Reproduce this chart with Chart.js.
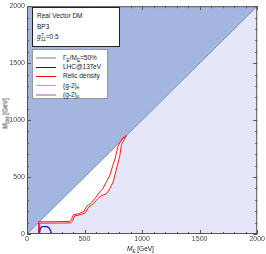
<!DOCTYPE html>
<html>
<head>
<meta charset="utf-8">
<script src="https://cdn.jsdelivr.net/npm/chart.js@4/dist/chart.umd.min.js"></script>
<style>
  html, body { margin:0; padding:0; background:#fff; }
  #wrap { position:relative; width:266px; height:254px; font-family:"Liberation Sans", Arial, sans-serif; color:#222; }
  #c { position:absolute; left:0; top:0; }
  .box { position:absolute; background:#fff; box-sizing:border-box; }
  #info { left:32px; top:7px; width:88px; height:40px; border:1px solid #222; font-size:6.5px; padding:3px 0 0 4px; line-height:10.5px; }
  #leg { left:32px; top:49px; width:76px; height:50px; border:1px solid #999; font-size:6.5px; padding:3px 0 0 3px; line-height:9.2px; }
  #leg .row { height:9.2px; white-space:nowrap; }
  #leg .ln { display:inline-block; width:20px; margin-right:7px; vertical-align:middle; }
  .lo { display:inline-block; font-size:4.6px; vertical-align:-1.5px; line-height:1; }
  .hi { display:inline-block; font-size:4.6px; vertical-align:2.5px; line-height:1; }
  .ttl { position:absolute; font-size:6.5px; white-space:nowrap; line-height:8px; }
</style>
</head>
<body>
<div id="wrap">
  <canvas id="c" width="266" height="254"></canvas>
  <div class="box" id="info">
    <div>Real Vector DM</div>
    <div>BP3</div>
    <div><i>g</i><span class="hi" style="margin-left:0.5px">T</span><span class="lo" style="margin-left:-3px">11</span>=0.5</div>
  </div>
  <div class="box" id="leg">
    <div class="row"><span class="ln" style="border-top:2px solid #bdbdbd"></span>Γ<span class="lo">E</span>/M<span class="lo">E</span>=50%</div>
    <div class="row"><span class="ln" style="border-top:1px solid #1010c8"></span>LHC@13TeV</div>
    <div class="row"><span class="ln" style="border-top:1px solid #ff0000"></span>Relic density</div>
    <div class="row"><span class="ln" style="border-top:1px solid #7fcc7f"></span>(g-2)<span class="lo">e</span></div>
    <div class="row"><span class="ln" style="border-top:2px solid #d3a6d3"></span>(g-2)<span class="lo">μ</span></div>
  </div>
  <div class="ttl" style="left:127px; top:245px;"><i>M</i><span class="lo">E</span> [GeV]</div>
  <div class="ttl" style="left:-16px; top:109px; width:44px; text-align:center; transform:rotate(-90deg);"><i>M</i><span class="lo">DM</span> [GeV]</div>
</div>
<script>
// axis ranges / ticks
const AXIS_MIN = 0, AXIS_MAX = 2000, MAJOR = 500, MINOR = 100;

// diagonal M_DM = M_E
const diagX = [0, 2000];
const diagY = [0, 2000];

// relic density contours (two branches)
const relicInX = [100, 100, 370, 385, 405, 450, 495, 520, 560, 600, 625, 660, 690, 720, 745, 765, 790, 830, 862];
const relicInY = [0, 107, 110, 125, 170, 178, 198, 245, 275, 325, 360, 400, 460, 515, 600, 660, 770, 840, 862];
const relicOutX = [110, 110, 380, 395, 415, 460, 505, 535, 575, 615, 648, 690, 720, 748, 777, 806, 820, 866];
const relicOutY = [0, 95, 97, 115, 160, 168, 185, 235, 265, 310, 338, 353, 400, 455, 570, 685, 785, 866];

// LHC@13TeV exclusion
const lhcX = [107, 115, 127, 150, 175, 190, 205, 214];
const lhcY = [0, 45, 64, 66, 64, 55, 30, 0];

const pts = (xs, ys) => xs.map((x, i) => ({ x, y: ys[i] }));

// lavender region: below the outer relic branch, then along the diagonal
const lowX = [0, 95, ...relicOutX.slice(1), ...diagX.slice(1)];
const lowY = [0, 95, ...relicOutY.slice(1), ...diagY.slice(1)];

const frame = {
  id: "frame",
  afterDraw(chart){
    const { ctx, chartArea: a, scales: { x, y } } = chart;
    ctx.save();
    ctx.strokeStyle = "#555"; ctx.lineWidth = 1;
    ctx.strokeRect(a.left + 0.5, a.top + 0.5, a.right - a.left - 1, a.bottom - a.top - 1);
    ctx.beginPath();
    for (let v = AXIS_MIN; v <= AXIS_MAX; v += MINOR){
      const len = v % MAJOR === 0 ? 4 : 2;
      const px = Math.round(x.getPixelForValue(v)) + 0.5;
      const py = Math.round(y.getPixelForValue(v)) + 0.5;
      ctx.moveTo(px, a.bottom); ctx.lineTo(px, a.bottom - len);
      ctx.moveTo(px, a.top); ctx.lineTo(px, a.top + len);
      ctx.moveTo(a.left, py); ctx.lineTo(a.left + len, py);
      ctx.moveTo(a.right, py); ctx.lineTo(a.right - len, py);
    }
    ctx.stroke();
    ctx.restore();
  }
};

const tickFont = { family: "Liberation Sans", size: 7 };
const plain = v => String(v);

new Chart(document.getElementById("c"), {
  type: "scatter",
  data: {
    datasets: [
      { data: pts(lhcX, lhcY), showLine: true, borderColor: "#1010c8", borderWidth: 1.2, pointRadius: 0, fill: false },
      { data: pts(relicInX, relicInY), showLine: true, borderColor: "#ff1a1a", borderWidth: 1, pointRadius: 0, fill: false },
      { data: pts(relicOutX, relicOutY), showLine: true, borderColor: "#ff1a1a", borderWidth: 1, pointRadius: 0, fill: false },
      { data: pts(diagX, diagY), showLine: true, borderColor: "#7892c4", borderWidth: 1, pointRadius: 0,
        fill: "end", backgroundColor: "#a4b6df" },
      { data: pts(lowX, lowY), showLine: true, borderWidth: 0, borderColor: "rgba(0,0,0,0)", pointRadius: 0,
        fill: "origin", backgroundColor: "#e6e6fa" },
    ],
  },
  options: {
    responsive: false, animation: false, devicePixelRatio: 1,
    layout: { padding: { left: 0, right: 8, top: 3, bottom: 0 } },
    plugins: { legend: { display: false }, tooltip: { enabled: false } },
    scales: {
      x: { type: "linear", min: AXIS_MIN, max: AXIS_MAX,
        grid: { display: false, drawTicks: false }, border: { display: false },
        ticks: { stepSize: MAJOR, font: tickFont, color: "#444", padding: 1, maxRotation: 0, callback: plain },
        afterFit: s => { s.height = 20; } },
      y: { type: "linear", min: AXIS_MIN, max: AXIS_MAX,
        grid: { display: false, drawTicks: false }, border: { display: false },
        ticks: { stepSize: MAJOR, font: tickFont, color: "#444", padding: 2, callback: plain },
        afterFit: s => { s.width = 27; } },
    },
  },
  plugins: [frame],
});
</script>
</body>
</html>
